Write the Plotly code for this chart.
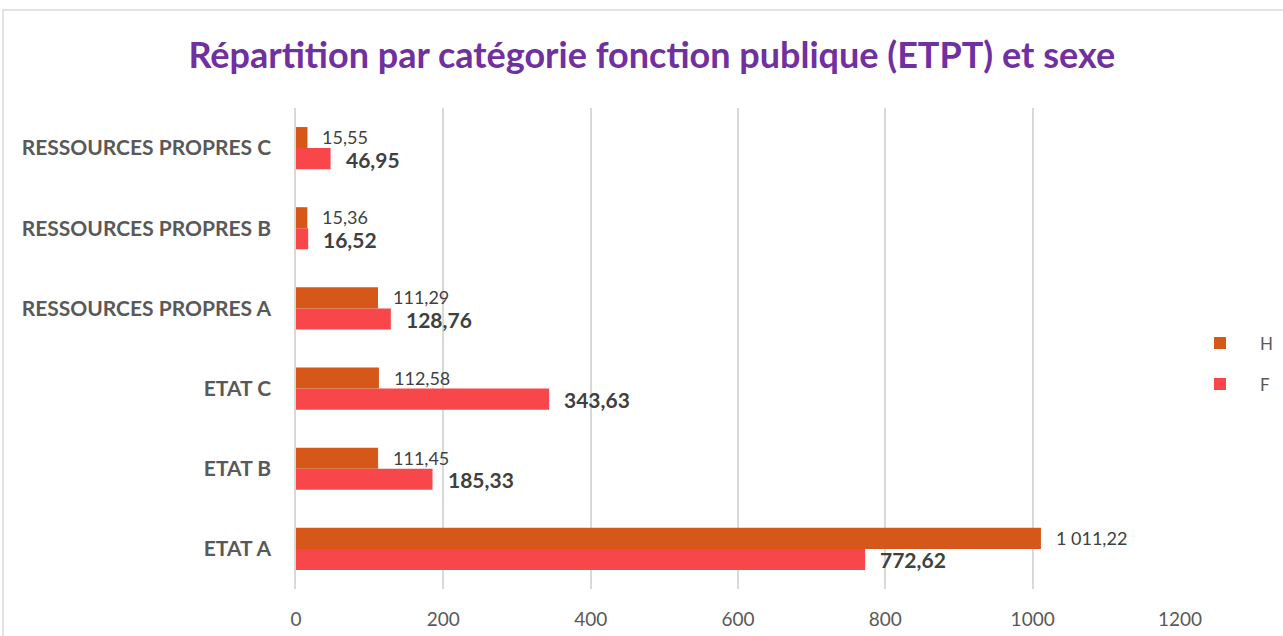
import plotly.graph_objects as go

categories = ["ETAT A", "ETAT B", "ETAT C", "RESSOURCES PROPRES A", "RESSOURCES PROPRES B", "RESSOURCES PROPRES C"]
h_values = [1011.22, 111.45, 112.58, 111.29, 15.36, 15.55]
f_values = [772.62, 185.33, 343.63, 128.76, 16.52, 46.95]
h_labels = ["1 011,22", "111,45", "112,58", "111,29", "15,36", "15,55"]
f_labels = ["772,62", "185,33", "343,63", "128,76", "16,52", "46,95"]
x_ticks = [0, 200, 400, 600, 800, 1000, 1200]

H_COLOR = "#D5581A"
F_COLOR = "#F7474A"
TEXT = "#595959"
FONT = "Lato"

fig = go.Figure()
fig.add_trace(go.Bar(name="F", y=categories, x=f_values, orientation="h",
                     marker=dict(color=F_COLOR, line=dict(width=0)),
                     legendgroup="F", legendrank=2, hoverinfo="x+y"))
fig.add_trace(go.Bar(name="H", y=categories, x=h_values, orientation="h",
                     marker=dict(color=H_COLOR, line=dict(width=0)),
                     legendgroup="H", legendrank=1, hoverinfo="x+y"))

annotations = []
for c, v, t in zip(categories, h_values, h_labels):
    annotations.append(dict(x=v, y=c, xref="x", yref="y", text=t, showarrow=False,
                            xanchor="left", yanchor="middle", xshift=13, yshift=11,
                            font=dict(family=FONT, size=18, color="#404040")))
for c, v, t in zip(categories, f_values, f_labels):
    annotations.append(dict(x=v, y=c, xref="x", yref="y", text="<b>" + t + "</b>", showarrow=False,
                            xanchor="left", yanchor="middle", xshift=13, yshift=-11,
                            font=dict(family=FONT, size=21, color="#404040")))

fig.update_layout(
    width=1283, height=636,
    margin=dict(l=296, r=103, t=108, b=47, autoexpand=False),
    paper_bgcolor="white", plot_bgcolor="white",
    barmode="group", bargap=0.475, bargroupgap=0,
    title=dict(text="<b>Répartition par catégorie fonction publique (ETPT) et sexe</b>",
               x=0.508, xanchor="center", y=1 - 55 / 636, yanchor="middle",
               font=dict(family=FONT, size=36, color="#7030A0")),
    font=dict(family=FONT, color=TEXT),
    legend=dict(x=1.0, xanchor="left", y=0.468, yanchor="middle",
                font=dict(family=FONT, size=17, color=TEXT),
                itemwidth=70,
                tracegroupgap=16, traceorder="grouped", bgcolor="rgba(0,0,0,0)"),
    annotations=annotations,
    shapes=[dict(type="rect", xref="paper", yref="paper",
                 x0=(3 - 296) / 884, x1=1.5,
                 y0=-0.5, y1=(589 - 10) / 481,
                 line=dict(color="#D9D9D9", width=1.5), layer="below")],
)
fig.update_xaxes(range=[0, 1200], tickvals=x_ticks, ticktext=[str(v) for v in x_ticks],
                 showgrid=True, gridcolor="#D9D9D9", gridwidth=1.5,
                 zeroline=False, showline=False, automargin=False,
                 tickfont=dict(family=FONT, size=19, color=TEXT),
                 ticks="", ticklabelstandoff=17)
fig.update_yaxes(categoryorder="array", categoryarray=categories,
                 showgrid=False, zeroline=False, showline=True, linecolor="#D9D9D9", linewidth=1.5,
                 automargin=False,
                 tickfont=dict(family=FONT, size=21, color=TEXT),
                 tickprefix="<b>", ticksuffix="</b>",
                 ticks="", ticklabelstandoff=19)

fig.write_html("out.html", config={"displayModeBar": False},
               post_script="document.body.style.margin='0px';document.body.style.overflow='hidden';")
